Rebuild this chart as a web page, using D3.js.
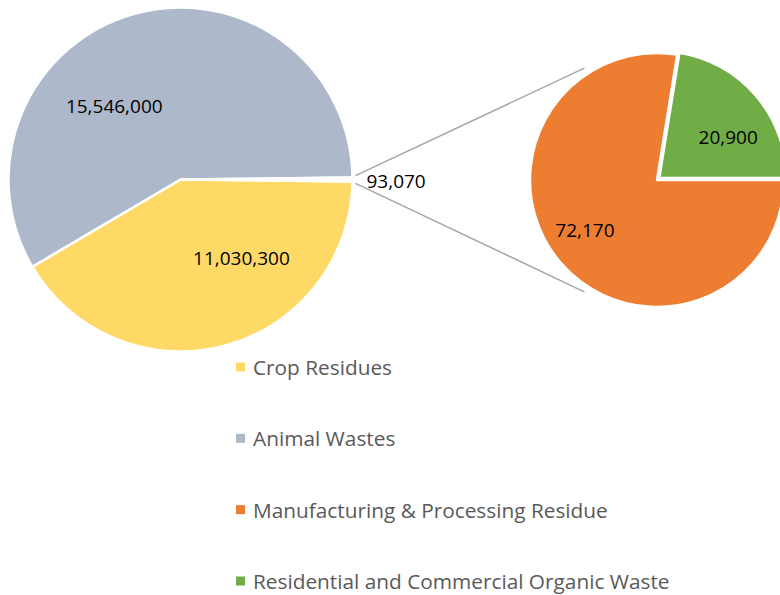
<!DOCTYPE html>
<html><head><meta charset="utf-8">
<script src="https://cdn.jsdelivr.net/npm/d3@7"></script>
<style>body{margin:0;background:#fff}svg{display:block}</style>
</head><body>
<script>
const mainCategories = ["Crop Residues", "Animal Wastes", "Other"];
const mainValues = [11030300, 15546000, 93070];
const subCategories = ["Manufacturing & Processing Residue", "Residential and Commercial Organic Waste"];
const subValues = [72170, 20900];
const mainLabels = ["11,030,300", "15,546,000", "93,070"];
const subLabels = ["72,170", "20,900"];
const legendLabels = ["Crop Residues", "Animal Wastes", "Manufacturing & Processing Residue", "Residential and Commercial Organic Waste"];
const colors = ["#FFD966", "#ADB9CA", "#ED7D31", "#70AD47"];

const W = 780, H = 595;
const svg = d3.select("body").append("svg").attr("width", W).attr("height", H);
const font = "'Open Sans', sans-serif";

// Main pie
const cx1 = 180.5, cy1 = 179.5, r1 = 172;
const total = d3.sum(mainValues);
const otherAng = mainValues[2] / total * 2 * Math.PI;
const startAng = Math.PI / 2 + otherAng / 2;
const pie1 = d3.pie().sort(null).startAngle(startAng).endAngle(startAng + 2 * Math.PI);
const arcs1 = pie1(mainValues);
const arc1 = d3.arc().innerRadius(0).outerRadius(r1);
const g1 = svg.append("g").attr("transform", `translate(${cx1},${cy1})`);
g1.selectAll("path").data(arcs1).join("path")
  .attr("d", arc1)
  .attr("fill", (d, i) => i === 2 ? "#ffffff" : colors[i])
  .attr("stroke", "#fff").attr("stroke-width", 2.5).attr("stroke-linejoin", "round");

// Secondary pie
const cx2 = 657, cy2 = 180, r2 = 127;
const pie2 = d3.pie().sort(null).startAngle(Math.PI / 2).endAngle(Math.PI / 2 + 2 * Math.PI);
const arcs2 = pie2(subValues);
const arc2 = d3.arc().innerRadius(0).outerRadius(r2);
const g2 = svg.append("g").attr("transform", `translate(${cx2},${cy2})`);
const explode = 3;
g2.selectAll("path").data(arcs2).join("path")
  .attr("d", arc2)
  .attr("fill", (d, i) => colors[i + 2])
  .attr("stroke", "#fff").attr("stroke-width", 2.5).attr("stroke-linejoin", "round")
  .attr("transform", (d, i) => {
    if (i === 0) return null;
    const a = (d.startAngle + d.endAngle) / 2;
    return `translate(${explode * Math.sin(a)},${-explode * Math.cos(a)})`;
  });

// Connector lines
const oArc = arcs1[2];
const p1 = [cx1 + (r1 + 3) * Math.sin(oArc.startAngle), cy1 - (r1 + 3) * Math.cos(oArc.startAngle) - 2];
const p2 = [cx1 + (r1 + 3) * Math.sin(oArc.endAngle), cy1 - (r1 + 3) * Math.cos(oArc.endAngle) + 2];
const tAng = 57 * Math.PI / 180, tR = r2 * 1.05;
const q1 = [cx2 - tR * Math.cos(tAng), cy2 - tR * Math.sin(tAng)];
const q2 = [cx2 - tR * Math.cos(tAng), cy2 + tR * Math.sin(tAng)];
svg.append("line").attr("x1", p1[0]).attr("y1", p1[1]).attr("x2", q1[0]).attr("y2", q1[1])
  .attr("stroke", "#A6A6A6").attr("stroke-width", 1.5);
svg.append("line").attr("x1", p2[0]).attr("y1", p2[1]).attr("x2", q2[0]).attr("y2", q2[1])
  .attr("stroke", "#A6A6A6").attr("stroke-width", 1.5);

// Data labels (polar offsets from pie centres)
function polar(cx, cy, deg, dist) {
  const a = deg * Math.PI / 180;
  return [cx + dist * Math.cos(a), cy + dist * Math.sin(a)];
}
const labelStyle = s => s.attr("font-family", font).attr("font-size", 19).attr("fill", "#000")
  .attr("dominant-baseline", "central");
let p = polar(cx1, cy1, 52, 99);
svg.append("text").attr("x", p[0]).attr("y", p[1]).attr("text-anchor", "middle").text(mainLabels[0]).call(labelStyle);
p = polar(cx1, cy1, 228, 99);
svg.append("text").attr("x", p[0]).attr("y", p[1]).attr("text-anchor", "middle").text(mainLabels[1]).call(labelStyle);
svg.append("text").attr("x", cx1 + r1 + 14).attr("y", cy1 + 1).attr("text-anchor", "start").text(mainLabels[2]).call(labelStyle);
p = polar(cx2, cy2, 145, 88);
svg.append("text").attr("x", p[0]).attr("y", p[1]).attr("text-anchor", "middle").text(subLabels[0]).call(labelStyle);
p = polar(cx2, cy2, -31, 83);
svg.append("text").attr("x", p[0]).attr("y", p[1]).attr("text-anchor", "middle").text(subLabels[1]).call(labelStyle);

// Legend
const ly = d3.scalePoint().domain(legendLabels).range([367, 581]);
const lg = svg.append("g");
const items = lg.selectAll("g").data(legendLabels).join("g")
  .attr("transform", d => `translate(236,${ly(d)})`);
items.append("rect").attr("x", 0).attr("y", -4.5).attr("width", 9).attr("height", 9)
  .attr("fill", (d, i) => colors[i]);
items.append("text").attr("x", 17).attr("y", 0).attr("dominant-baseline", "central")
  .attr("font-family", font).attr("font-size", 20.8).attr("fill", "#595959").text(d => d);
</script>
</body></html>
